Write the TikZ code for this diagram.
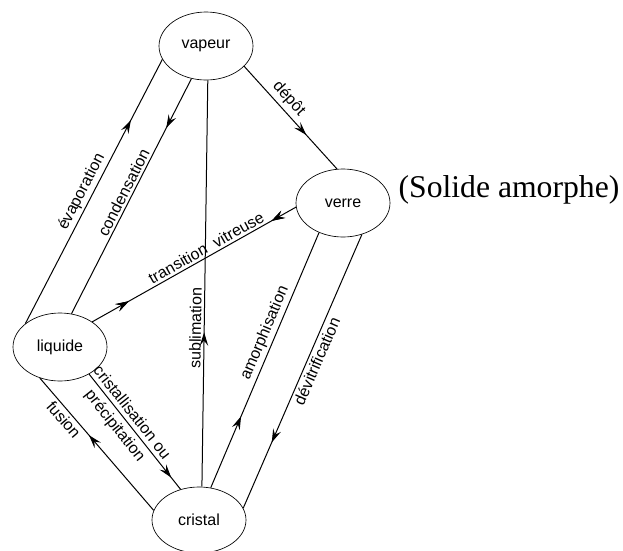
\documentclass[tikz,border=0pt]{standalone}
\usepackage{fontspec}
\setmainfont{Liberation Sans}
\newfontfamily\amorphefont{Liberation Serif}
\usepackage{tikz}
\usetikzlibrary{shapes.geometric,arrows.meta,decorations.markings}

\begin{document}
\begin{tikzpicture}[
  x=0.6pt, y=-0.6pt,
  phase/.style={draw, ellipse, inner sep=0pt, minimum width=56.4pt, minimum height=40.8pt, font=\fontsize{9.6}{11}\selectfont},
  wire/.style={line width=0.6pt},
  lab/.style={sloped, inner sep=1.5pt, font=\fontsize{9.6}{11}\selectfont},
  tip/.style={postaction={decorate}, decoration={markings, mark=at position #1 with {\arrow{Stealth[length=8pt, width=5pt, inset=3pt]}}}},
  backtip/.style={postaction={decorate}, decoration={markings, mark=at position #1 with {\arrowreversed{Stealth[length=8pt, width=5pt, inset=3pt]}}}}
]
\useasboundingbox (0,0) rectangle (623,551);

% Phases
\node[phase] (vapeur) at (206,46) {vapeur};
\node[phase] (verre) at (343,203) {verre};
\node[phase] (liquide) at (60,347) {liquide};
\node[phase, minimum height=39.6pt] (cristal) at (199,520) {cristal};

% Note beside the glass
\node[font=\amorphefont\fontsize{19}{22}\selectfont] (amorphe) at (509,190) {(Solide amorphe)};

% Transitions
\draw[wire, tip=0.77] (liquide.146) -- node[lab, pos=0.48, above] {évaporation} (vapeur.197);
\draw[wire, tip=0.21] (vapeur.246) -- node[lab, pos=0.5, above] {condensation} (liquide.71);
\draw[wire, tip=0.38] (cristal.85) -- node[lab, pos=0.39, above] {sublimation} (vapeur.273);
\draw[wire, tip=0.67] (vapeur.332) -- node[lab, pos=0.39, above, inner sep=2pt] {dépôt} (verre.100);
\draw[wire, tip=0.18, backtip=0.88] (liquide.38) -- node[lab, pos=0.58, above] {transition\ \ vitreuse} (verre.185);
\draw[wire, tip=0.28] (cristal.70) -- node[lab, pos=0.59, above] {amorphisation} (verre.231);
\draw[wire, tip=0.76] (verre.301) -- node[lab, pos=0.45, below] {dévitrification} (cristal.15);
\draw[wire, tip=0.9] (liquide.317) -- node[lab, pos=0.385, above, inner sep=2.5pt] {cristallisation ou}
  node[lab, pos=0.385, below, inner sep=2.5pt] {précipitation} (cristal.121);
\draw[wire, tip=0.57] (cristal.168) -- node[lab, pos=0.73, below] {fusion} (liquide.237);

\end{tikzpicture}
\end{document}
